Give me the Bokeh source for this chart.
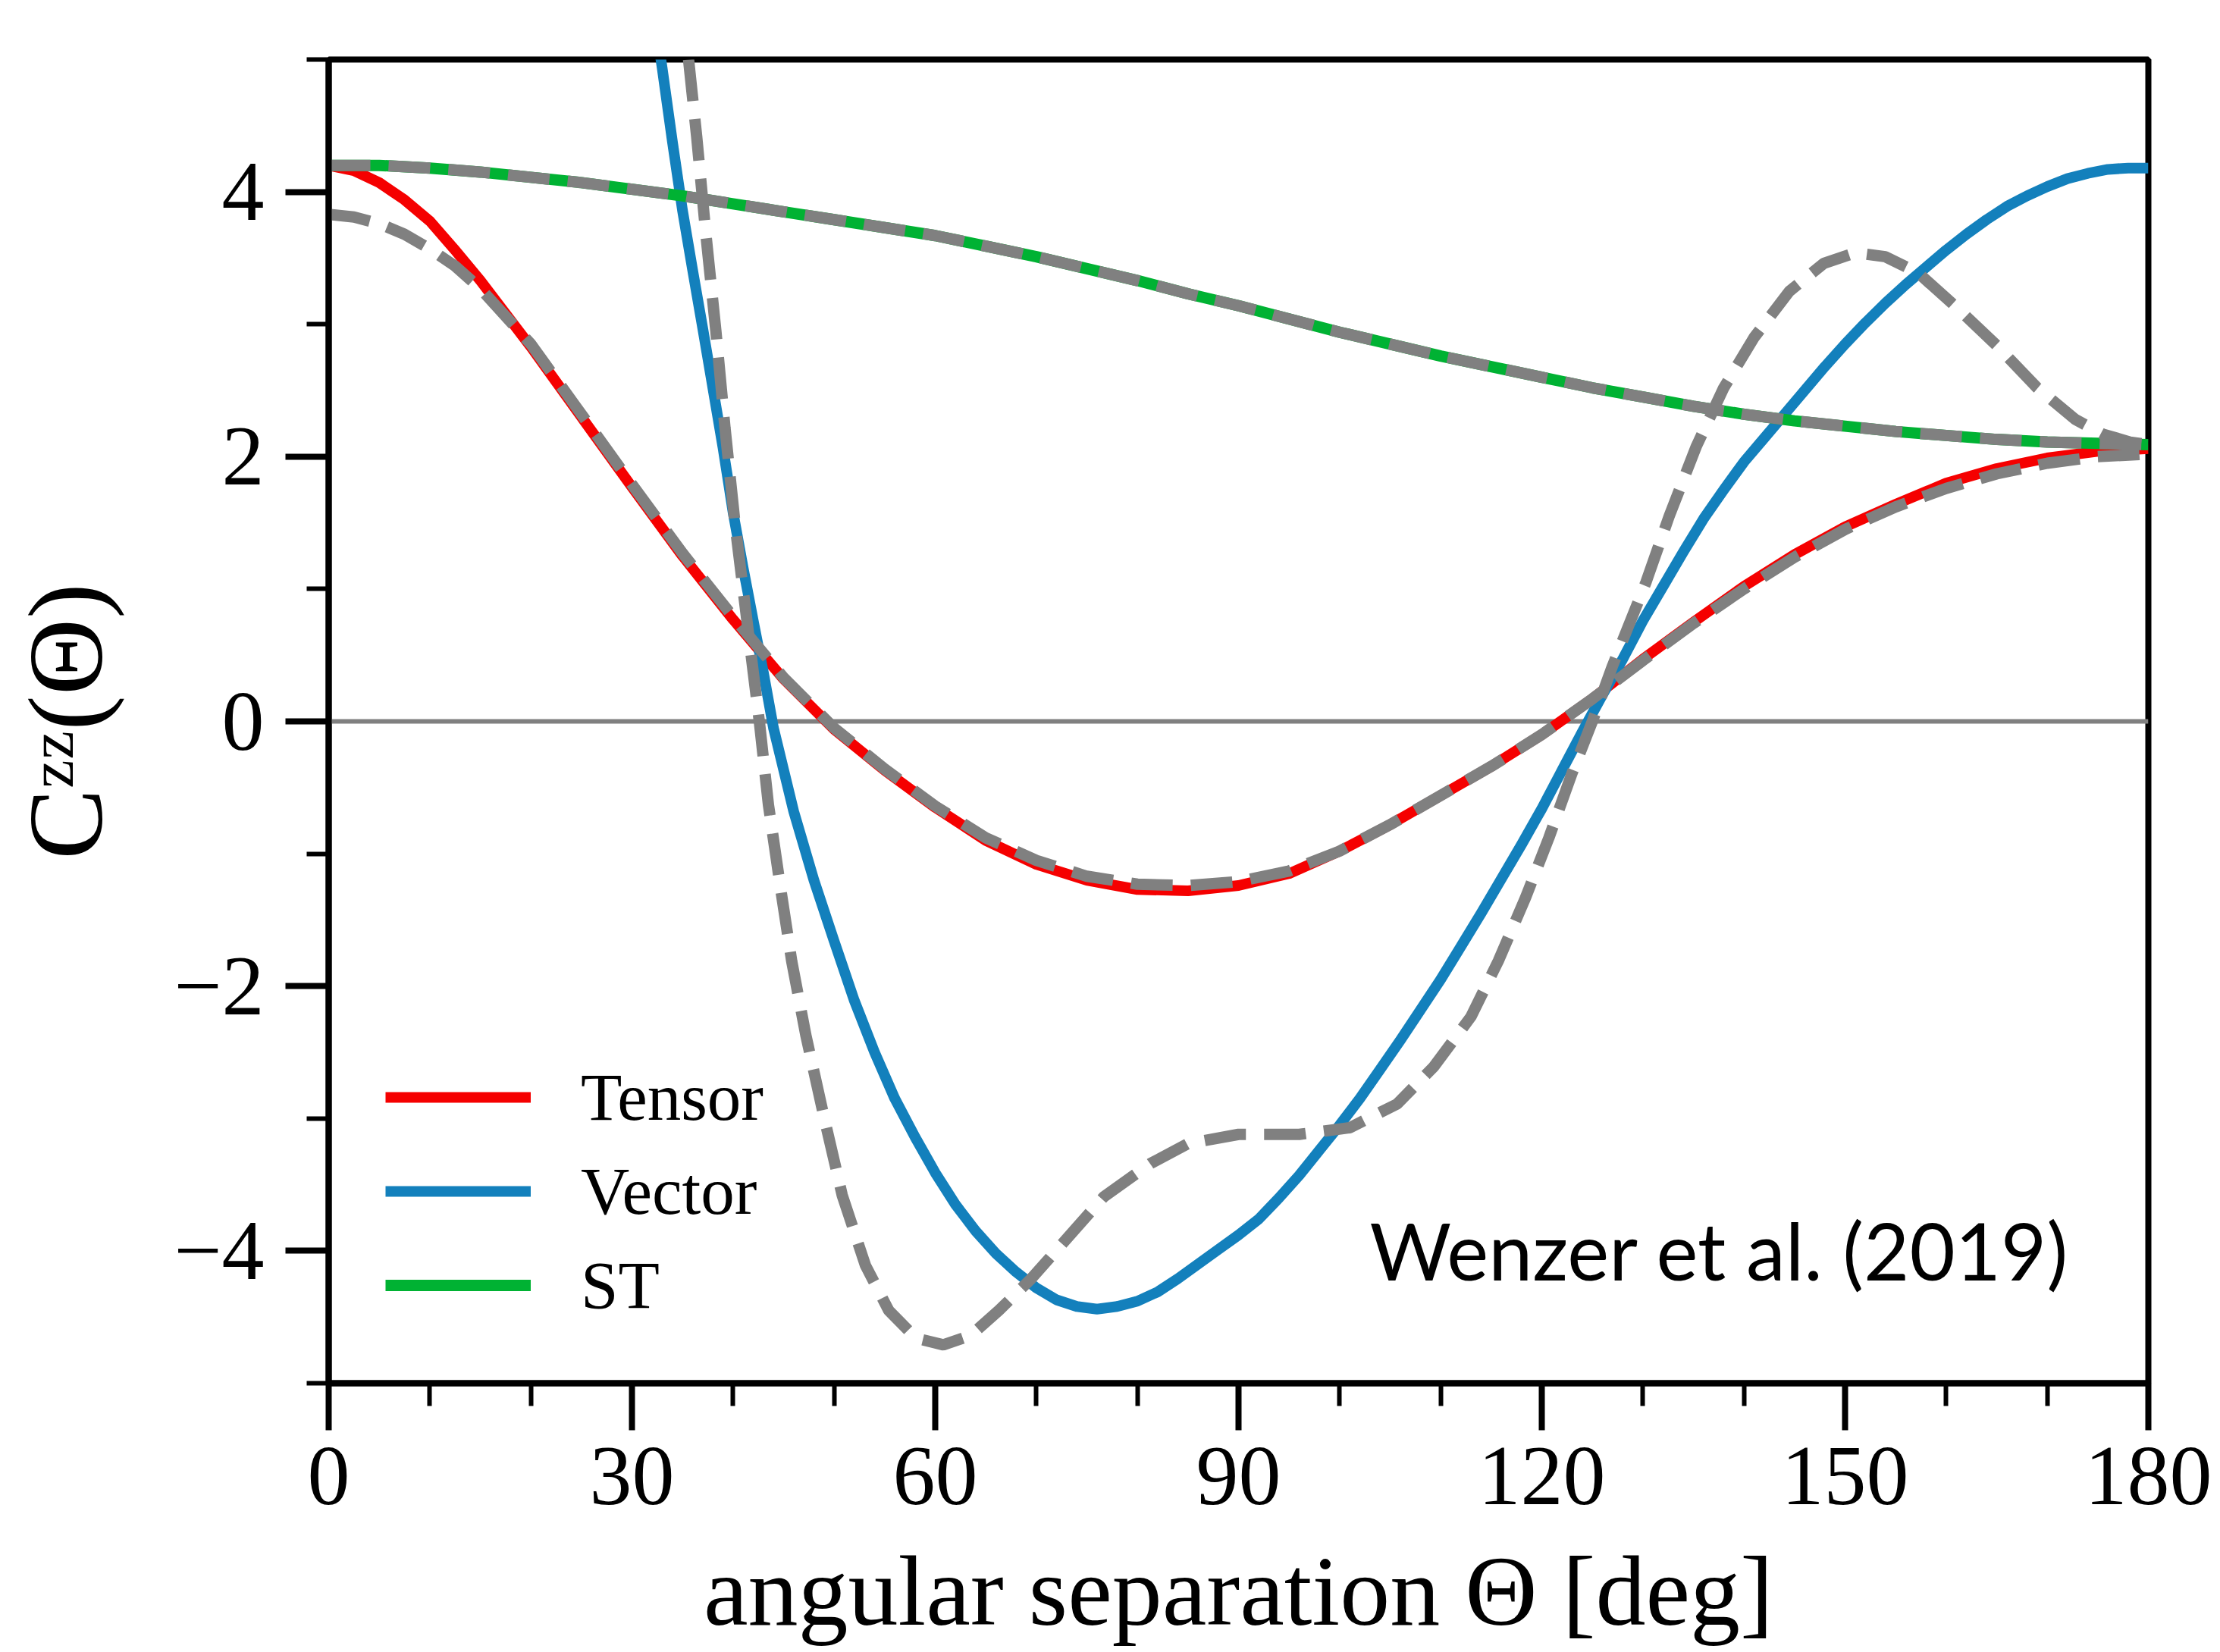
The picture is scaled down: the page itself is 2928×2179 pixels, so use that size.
import numpy as np
from bokeh.plotting import figure
from bokeh.models import Range1d, FixedTicker, Span, Label, Legend, LegendItem
from bokeh.embed import file_html
from bokeh.resources import INLINE

# ---------------- data ----------------
tensor_x = [0, 2.5, 5, 7.5, 10, 12.5, 15, 20, 25, 30, 35, 40, 45, 50, 55, 60, 65, 70, 75, 80, 85,
            90, 95, 100, 105, 110, 115, 120, 125, 130, 135, 140, 145, 150, 155, 160, 165, 170, 175, 180]
tensor_y = [4.20, 4.16, 4.07, 3.94, 3.78, 3.56, 3.33, 2.83, 2.30, 1.77, 1.25, 0.77, 0.32, -0.06,
            -0.37, -0.65, -0.90, -1.08, -1.20, -1.27, -1.28, -1.24, -1.15, -0.98, -0.78, -0.56,
            -0.34, -0.10, 0.17, 0.47, 0.75, 1.02, 1.26, 1.47, 1.64, 1.80, 1.91, 1.99, 2.04, 2.06]
tensor_fit_y = [3.83, 3.81, 3.76, 3.68, 3.57, 3.44, 3.27, 2.85, 2.32, 1.79, 1.27, 0.79, 0.33, -0.05,
                -0.36, -0.64, -0.88, -1.05, -1.17, -1.23, -1.24, -1.21, -1.13, -0.98, -0.78, -0.56,
                -0.34, -0.10, 0.17, 0.46, 0.74, 1.00, 1.24, 1.45, 1.62, 1.76, 1.87, 1.95, 2.00, 2.02]

vector_x = [32, 33, 34, 35, 36, 37, 38, 39, 40, 41, 42, 43, 44, 46, 48, 50, 52, 54, 56, 58, 60,
            62, 64, 66, 68, 70, 72, 74, 76, 78, 80, 82, 84, 86, 88, 90, 92, 94, 96, 98, 100, 102,
            104, 106, 108, 110, 112, 114, 116, 118, 120, 122, 124, 126, 128, 130, 132, 134, 136,
            138, 140, 142, 144, 146, 148, 150, 152, 154, 156, 158, 160, 162, 164, 166, 168, 170,
            172, 174, 176, 178, 180]
vector_y = [5.45, 4.93, 4.38, 3.86, 3.41, 2.97, 2.52, 2.07, 1.58, 1.16, 0.76, 0.37, -0.05, -0.68,
            -1.20, -1.66, -2.11, -2.50, -2.85, -3.14, -3.41, -3.65, -3.85, -4.02, -4.16, -4.28,
            -4.37, -4.42, -4.44, -4.42, -4.38, -4.31, -4.21, -4.10, -3.99, -3.88, -3.76, -3.60,
            -3.43, -3.24, -3.05, -2.85, -2.63, -2.41, -2.18, -1.95, -1.70, -1.45, -1.19, -0.93,
            -0.66, -0.37, -0.08, 0.20, 0.47, 0.76, 1.02, 1.28, 1.53, 1.75, 1.96, 2.14, 2.32, 2.50,
            2.68, 2.85, 3.01, 3.16, 3.30, 3.43, 3.56, 3.68, 3.79, 3.89, 3.97, 4.04, 4.10, 4.14,
            4.17, 4.18, 4.18]

vector_fit_x = [35.0, 35.6, 36.4, 37.3, 38.3, 39.2, 40.2, 41.1, 42.0, 42.6, 43.5, 44.7, 45.8, 47.2,
                49.0, 50.8, 53.1, 55.4, 58.1, 60.8, 63.5, 66.3, 69.5, 73.1, 76.7, 81.3, 85.0, 90.0,
                96.0, 101.0, 105.7, 109.3, 113.0, 115.7, 118.4, 120.7, 123.0, 125.0, 127.0, 130.3,
                132.6, 135.3, 138.0, 141.0, 144.5, 147.9, 151.0, 154.0, 157.2, 161.0, 165.0,
                169.0, 172.8, 175.5, 178.2, 180.0]
vector_fit_y = [5.45, 5.00, 4.42, 3.69, 2.95, 2.22, 1.49, 0.93, 0.37, 0.00, -0.63, -1.26, -1.81,
                -2.37, -2.99, -3.58, -4.11, -4.45, -4.66, -4.71, -4.64, -4.45, -4.21, -3.90, -3.59,
                -3.34, -3.19, -3.12, -3.12, -3.07, -2.89, -2.61, -2.23, -1.81, -1.33, -0.88, -0.39,
                0.00, 0.42, 1.05, 1.55, 2.08, 2.52, 2.90, 3.25, 3.46, 3.54, 3.51, 3.39, 3.13, 2.84,
                2.52, 2.28, 2.17, 2.11, 2.09]

st_x = [0, 5, 10, 15, 20, 25, 30, 35, 40, 45, 50, 55, 60, 65, 70, 75, 80, 85, 90, 95, 100, 105,
        110, 115, 120, 125, 130, 135, 140, 145, 150, 155, 160, 165, 170, 175, 180]
st_y = [4.20, 4.20, 4.18, 4.15, 4.11, 4.07, 4.02, 3.97, 3.91, 3.85, 3.79, 3.73, 3.67, 3.59, 3.51,
        3.42, 3.33, 3.23, 3.14, 3.04, 2.94, 2.85, 2.76, 2.68, 2.60, 2.52, 2.45, 2.38, 2.32, 2.27,
        2.23, 2.19, 2.16, 2.13, 2.11, 2.10, 2.09]
st_fit_y = st_y

x_major = [0, 30, 60, 90, 120, 150, 180]
x_minor = [10, 20, 40, 50, 70, 80, 100, 110, 130, 140, 160, 170]
y_major = [-4, -2, 0, 2, 4]
y_minor = [-5, -3, -1, 1, 3, 5]
y_labels = {-4: "\u22124", -2: "\u22122", 0: "0", 2: "2", 4: "4"}

legend_names = ["Tensor", "Vector", "ST"]

RED = "#f50000"
BLUE = "#1380bc"
GREEN = "#00b233"
GRAY = "#808080"
SERIF = "Liberation Serif"

# ---------------- figure ----------------
p = figure(width=2928, height=2179, output_backend="svg", toolbar_location=None,
           x_range=Range1d(0, 180), y_range=Range1d(-5, 5),
           min_border_left=433, min_border_right=95, min_border_top=78, min_border_bottom=355)
p.title.visible = False
p.xgrid.visible = False
p.ygrid.visible = False
p.background_fill_color = "white"
p.border_fill_color = "white"
p.outline_line_color = "black"
p.outline_line_width = 8

for ax in (p.xaxis[0], p.yaxis[0]):
    ax.axis_line_width = 8
    ax.axis_line_color = "black"
    ax.major_tick_in = 0
    ax.minor_tick_in = 0
    ax.major_tick_line_width = 8
    ax.minor_tick_line_width = 6
    ax.major_tick_line_color = "black"
    ax.minor_tick_line_color = "black"
    ax.major_label_text_font = SERIF
    ax.major_label_text_font_size = "112px"
    ax.major_label_text_color = "black"

p.xaxis.ticker = FixedTicker(ticks=x_major, minor_ticks=x_minor)
p.yaxis.ticker = FixedTicker(ticks=y_major, minor_ticks=y_minor)
p.xaxis.major_tick_out = 62
p.xaxis.minor_tick_out = 30
p.yaxis.major_tick_out = 57
p.yaxis.minor_tick_out = 29
p.xaxis.major_label_standoff = 23
p.yaxis.major_label_standoff = 28
p.yaxis.major_label_overrides = y_labels

p.xaxis.axis_label = "angular separation \u0398 [deg]"
p.xaxis.axis_label_text_font = SERIF
p.xaxis.axis_label_text_font_size = "132px"
p.xaxis.axis_label_text_font_style = "normal"
p.xaxis.axis_label_text_color = "black"
p.xaxis.axis_label_standoff = 38

p.yaxis.axis_label = "C\u1dbb\u1dbb(\u0398)"
p.yaxis.axis_label_text_font = SERIF
p.yaxis.axis_label_text_font_size = "140px"
p.yaxis.axis_label_text_font_style = "normal"
p.yaxis.axis_label_text_color = "black"
p.yaxis.axis_label_standoff = 62

# zero line
p.add_layout(Span(location=0, dimension="width", line_color=GRAY, line_width=6, level="underlay"))

# curves
r_t = p.line(tensor_x, tensor_y, line_color=RED, line_width=14, line_join="round")
r_v = p.line(vector_x, vector_y, line_color=BLUE, line_width=14, line_join="round")
r_s = p.line(st_x, st_y, line_color=GREEN, line_width=15, line_join="round")
p.line(tensor_x, tensor_fit_y, line_color=GRAY, line_width=15, line_dash="55 24", line_cap="butt")
p.line(vector_fit_x, vector_fit_y, line_color=GRAY, line_width=15, line_dash="55 24", line_cap="butt")
p.line(st_x, st_fit_y, line_color=GRAY, line_width=15, line_dash="55 24", line_cap="butt")

legend = Legend(items=[LegendItem(label=legend_names[0], renderers=[r_t]),
                       LegendItem(label=legend_names[1], renderers=[r_v]),
                       LegendItem(label=legend_names[2], renderers=[r_s])],
                location=(75, 67), glyph_width=192, glyph_height=124, label_height=124,
                spacing=0, padding=0, margin=0, label_standoff=66,
                label_text_font=SERIF, label_text_font_size="89px", label_text_color="black",
                border_line_color=None, background_fill_alpha=0)
p.add_layout(legend)

# citation
p.add_layout(Label(x=1373, y=176, x_units="screen", y_units="screen", text="Wenzer et al. (2019)",
                   text_font="Lato", text_font_size="104px", text_color="black",
                   text_align="left", text_baseline="alphabetic"))

open("out.html", "w").write(file_html(p, INLINE))
